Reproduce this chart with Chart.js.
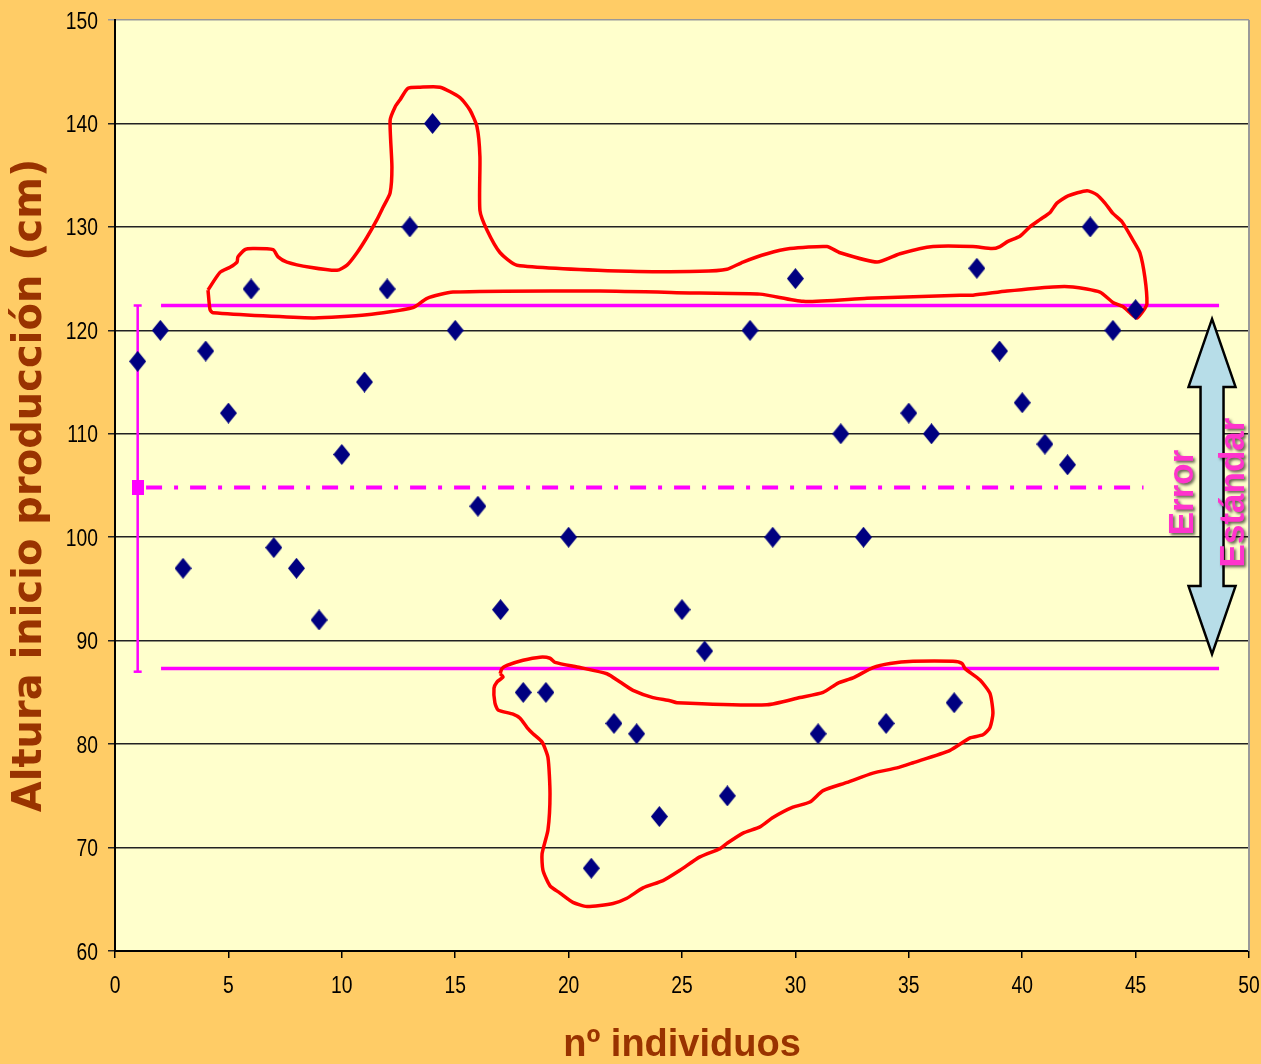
<!DOCTYPE html>
<html>
<head>
<meta charset="utf-8">
<script src="https://cdn.jsdelivr.net/npm/chart.js@4.4.1/dist/chart.umd.min.js"></script>
<style>
  html, body { margin: 0; padding: 0; background: #FFCC66; }
  #wrap { width: 1261px; height: 1064px; }
</style>
</head>
<body>
<div id="wrap"><canvas id="chart" width="1261" height="1064"></canvas></div>
<script>
// individuals and their height at start of production (cm)
const individuals = [1, 2, 3, 4, 5, 6, 7, 8, 9, 10, 11, 12, 13, 14, 15, 16, 17, 18, 19, 20,
    21, 22, 23, 24, 25, 26, 27, 28, 29, 30, 31, 32, 33, 34, 35, 36, 37, 38, 39, 40, 41, 42, 43, 44, 45];
const heights = [117, 120, 97, 118, 112, 124, 99, 97, 92, 108, 115, 124, 130, 140, 120, 103, 93, 85, 85, 100,
    68, 82, 81, 73, 93, 89, 75, 120, 100, 125, 81, 110, 100, 82, 112, 110, 84, 126, 118, 113, 109, 107, 130, 120, 122];

const xTicks = [0, 5, 10, 15, 20, 25, 30, 35, 40, 45, 50];
const yTicks = [60, 70, 80, 90, 100, 110, 120, 130, 140, 150];

// mean and +/- standard error lines
const meanHeight = 104.8;
const sdUpper = 122.4;
const sdLower = 87.3;
const errorBarX = 1;
const errorBar = [122.4, 87.0];
const sdLineX = [2.03, 48.68];
const meanLineX = [1.37, 45.35];

// arrow "Error Estándar"
const arrowX = 48.37;
const arrowTips = [121.1, 88.7];

// hand drawn groupings (x, y in chart units)
const upperGroup = [[4.10,123.9],[4.63,125.6],[5.07,126.1],[5.38,126.6],[5.42,127.1],[5.73,127.8],[6.08,127.9],[6.97,127.8],
    [7.19,127.1],[7.58,126.6],[8.60,126.1],[9.79,125.8],[10.23,126.3],[10.67,127.5],[11.11,129.0],[11.55,130.7],[11.82,131.9],
    [12.13,133.3],[12.21,135.8],[12.13,140.3],[12.35,141.6],[12.57,142.3],[12.92,143.4],[13.45,143.5],[14.33,143.5],
    [15.21,142.5],[15.65,141.3],[15.96,139.7],[16.09,136.8],[16.09,131.6],[16.40,129.7],[16.98,127.5],[17.72,126.3],
    [22.71,125.7],[25.79,125.7],[26.98,125.9],[27.69,126.6],[28.75,127.4],[29.76,127.9],[31.39,128.1],[31.97,127.5],
    [33.60,126.6],[34.61,127.4],[36.07,128.1],[37.83,128.1],[38.67,127.9],[39.02,128.1],[39.37,128.6],[39.90,129.1],
    [40.34,130.0],[40.78,130.7],[41.23,131.4],[41.53,132.3],[42.02,133.0],[42.86,133.5],[43.30,133.1],[43.65,132.3],
    [44.00,131.3],[44.40,130.5],[44.89,128.7],[45.19,127.5],[45.41,125.1],[45.50,122.6],[45.37,122.0],[45.06,121.2],
    [44.75,121.7],[44.44,122.3],[44.00,122.7],[43.43,123.7],[42.24,124.2],[41.36,124.2],[39.33,123.8],[37.83,123.4],
    [37.26,123.4],[33.16,123.1],[30.34,122.8],[28.44,123.5],[25.79,123.6],[21.38,123.8],[14.90,123.7],[13.76,123.1],
    [13.14,122.2],[11.11,121.5],[8.73,121.2],[4.32,121.7],[4.19,122.0],[4.10,123.9]];

const lowerGroup = [[16.98,86.8],[17.06,87.3],[17.28,87.6],[17.99,88.1],[18.74,88.4],[19.18,88.3],[19.40,87.9],[20.50,87.4],
    [21.69,86.8],[22.27,86.0],[22.84,85.2],[23.72,84.5],[24.47,84.2],[24.78,84.0],[28.75,83.8],[30.20,84.5],[31.22,85.0],
    [31.88,85.9],[32.54,86.4],[33.42,87.4],[34.17,87.8],[35.19,88.0],[36.95,88.0],[37.35,87.8],[37.48,87.3],[38.14,86.2],
    [38.58,84.9],[38.71,83.0],[38.58,81.6],[38.27,80.9],[37.70,80.6],[36.82,79.4],[35.19,78.2],[34.48,77.7],[33.42,77.2],
    [32.28,76.3],[31.22,75.5],[30.64,74.4],[29.89,73.9],[29.01,72.9],[28.44,72.0],[27.69,71.4],[26.98,70.4],[26.68,69.9],
    [25.79,69.1],[24.91,67.8],[24.16,66.8],[23.28,66.1],[22.57,65.1],[21.96,64.6],[20.81,64.3],[20.19,64.7],[19.62,65.6],
    [19.18,66.3],[18.87,67.8],[18.83,69.4],[19.09,71.7],[19.18,75.2],[19.09,78.7],[18.83,80.2],[18.43,81.0],[18.17,81.6],
    [17.86,82.5],[17.55,82.9],[16.89,83.3],[16.75,84.0],[16.71,85.4],[16.84,86.0],[17.11,86.5],[16.98,86.8]];

const MAGENTA = '#FF00FF';
const SANS = "'Liberation Sans', Arial, sans-serif";

// little canvases used as point styles (the original is a bit taller than wide)
function shapeCanvas(w, h, color, kind) {
    const c = document.createElement('canvas');
    c.width = w; c.height = h;
    const g = c.getContext('2d');
    g.fillStyle = color;
    if (kind === 'diamond') {
        g.beginPath();
        g.moveTo(w / 2, 0); g.lineTo(w, h / 2); g.lineTo(w / 2, h); g.lineTo(0, h / 2);
        g.closePath();
        g.fill();
    } else {
        g.fillRect(0, 0, w, h);
    }
    return c;
}
const diamond = shapeCanvas(17, 21, '#000080', 'diamond');
const meanBox = shapeCanvas(12, 15, MAGENTA, 'rect');

const toXY = arr => arr.map(p => ({ x: p[0], y: p[1] }));

const plotBackground = {
    id: 'plotBackground',
    beforeDraw(chart) {
        const { ctx, chartArea: a } = chart;
        ctx.save();
        ctx.fillStyle = '#FFCC66';
        ctx.fillRect(0, 0, chart.width, chart.height);
        ctx.fillStyle = '#FFFFCC';
        ctx.fillRect(a.left, a.top, a.right - a.left, a.bottom - a.top);
        ctx.restore();
    },
    beforeDatasetsDraw(chart) {
        const { ctx, chartArea: a } = chart;
        ctx.save();
        ctx.strokeStyle = '#999999';
        ctx.lineWidth = 2;
        ctx.beginPath();
        ctx.moveTo(a.right, a.top);
        ctx.lineTo(a.right, a.bottom);
        ctx.stroke();
        ctx.restore();
    }
};

// tick labels in a narrow face: the scale's own ticks, squeezed horizontally
const narrowTicks = {
    id: 'narrowTicks',
    afterDraw(chart) {
        const { ctx, scales: { x, y } } = chart;
        ctx.save();
        ctx.font = '23.5px ' + SANS;
        ctx.fillStyle = '#000';
        ctx.textBaseline = 'alphabetic';
        const squeeze = 0.82;
        x.ticks.forEach((t, i) => {
            ctx.save();
            ctx.translate(x.getPixelForTick(i), x.bottom - x.height + 42);
            ctx.scale(squeeze, 1);
            ctx.textAlign = 'center';
            ctx.fillText(String(t.value), 0, 0);
            ctx.restore();
        });
        y.ticks.forEach((t, i) => {
            ctx.save();
            ctx.translate(y.right - 17, y.getPixelForTick(i) + 8.5);
            ctx.scale(squeeze, 1);
            ctx.textAlign = 'right';
            ctx.fillText(String(t.value), 0, 0);
            ctx.restore();
        });
        ctx.restore();
    }
};

const errorArrow = {
    id: 'errorArrow',
    afterDatasetsDraw(chart) {
        const { ctx, scales: { x, y } } = chart;
        const cx = x.getPixelForValue(arrowX);
        const top = y.getPixelForValue(arrowTips[0]);
        const bot = y.getPixelForValue(arrowTips[1]);
        const head = 68, hw = 23.5, sw = 11.5;
        ctx.save();
        ctx.beginPath();
        ctx.moveTo(cx, top);
        ctx.lineTo(cx + hw, top + head);
        ctx.lineTo(cx + sw, top + head);
        ctx.lineTo(cx + sw, bot - head);
        ctx.lineTo(cx + hw, bot - head);
        ctx.lineTo(cx, bot);
        ctx.lineTo(cx - hw, bot - head);
        ctx.lineTo(cx - sw, bot - head);
        ctx.lineTo(cx - sw, top + head);
        ctx.lineTo(cx - hw, top + head);
        ctx.closePath();
        ctx.fillStyle = '#B7DDE8';
        ctx.fill();
        ctx.lineWidth = 2.5;
        ctx.lineJoin = 'miter';
        ctx.strokeStyle = '#000000';
        ctx.stroke();

        const mid = (top + bot) / 2 + 6;
        ctx.font = 'bold 35px ' + SANS;
        ctx.textAlign = 'center';
        ctx.textBaseline = 'middle';
        ctx.fillStyle = '#FF33CC';
        ctx.shadowColor = 'rgba(0,0,0,0.6)';
        ctx.shadowBlur = 3;
        ctx.shadowOffsetX = 2;
        ctx.shadowOffsetY = 2;
        [['Error', cx - 29], ['Estándar', cx + 22]].forEach(([txt, tx]) => {
            ctx.save();
            ctx.translate(tx, mid);
            ctx.rotate(-Math.PI / 2);
            ctx.fillText(txt, 0, 0);
            ctx.restore();
        });
        ctx.restore();
    }
};

new Chart(document.getElementById('chart'), {
    type: 'scatter',
    data: {
        datasets: [
            {
                label: 'Altura',
                data: individuals.map((n, i) => ({ x: n, y: heights[i] })),
                pointStyle: diamond,
                order: 1
            },
            {
                label: 'upper group',
                data: toXY(upperGroup),
                showLine: true,
                borderColor: '#FF0000',
                borderWidth: 3.5,
                tension: 0.2,
                pointRadius: 0,
                order: 2
            },
            {
                label: 'lower group',
                data: toXY(lowerGroup),
                showLine: true,
                borderColor: '#FF0000',
                borderWidth: 3.5,
                tension: 0.2,
                pointRadius: 0,
                order: 2
            },
            {
                label: 'sd upper',
                data: sdLineX.map(v => ({ x: v, y: sdUpper })),
                showLine: true,
                borderColor: MAGENTA,
                borderWidth: 3.5,
                pointRadius: 0,
                order: 3
            },
            {
                label: 'sd lower',
                data: sdLineX.map(v => ({ x: v, y: sdLower })),
                showLine: true,
                borderColor: MAGENTA,
                borderWidth: 3.5,
                pointRadius: 0,
                order: 3
            },
            {
                label: 'mean',
                data: meanLineX.map(v => ({ x: v, y: meanHeight })),
                showLine: true,
                borderColor: MAGENTA,
                borderWidth: 4,
                borderDash: [16, 12, 4, 12],
                pointRadius: 0,
                order: 3
            },
            {
                label: 'error bar',
                data: errorBar.map(v => ({ x: errorBarX, y: v })),
                showLine: true,
                borderColor: MAGENTA,
                borderWidth: 2.5,
                pointStyle: 'line',
                pointRadius: 4,
                pointBorderWidth: 2.5,
                pointBorderColor: MAGENTA,
                order: 3
            },
            {
                label: 'mean point',
                data: [{ x: errorBarX, y: meanHeight }],
                pointStyle: meanBox,
                order: 3
            }
        ]
    },
    options: {
        responsive: false,
        animation: false,
        layout: { padding: { top: 20, right: 12, left: 0, bottom: 0 } },
        plugins: {
            legend: { display: false },
            tooltip: { enabled: false }
        },
        scales: {
            x: {
                type: 'linear',
                min: xTicks[0],
                max: xTicks[xTicks.length - 1],
                afterBuildTicks: s => { s.ticks = xTicks.map(v => ({ value: v })); },
                afterFit: s => { s.height = 113; s.paddingLeft = 0; s.paddingRight = 0; },
                ticks: { display: false },
                grid: { drawOnChartArea: false, color: '#000', tickLength: 7, lineWidth: 1.5 },
                border: { color: '#000', width: 2 },
                title: {
                    display: true,
                    text: 'nº individuos',
                    color: '#993300',
                    font: { family: SANS, weight: 'bold', size: 38 },
                    padding: { top: 0, bottom: -4 }
                }
            },
            y: {
                type: 'linear',
                min: yTicks[0],
                max: yTicks[yTicks.length - 1],
                afterBuildTicks: s => { s.ticks = yTicks.map(v => ({ value: v })); },
                afterFit: s => { s.width = 115; s.paddingTop = 0; s.paddingBottom = 0; },
                ticks: { display: false },
                grid: {
                    color: c => (c.tick && c.tick.value === 150 ? '#999999' : '#222222'),
                    lineWidth: 1.5,
                    tickLength: 7
                },
                border: { color: '#000', width: 2 },
                title: {
                    display: true,
                    text: 'Altura inicio producción (cm)',
                    color: '#993300',
                    font: { family: "'DejaVu Sans', sans-serif", weight: 'bold', size: 40 },
                    padding: { top: 7, bottom: 0 }
                }
            }
        }
    },
    plugins: [plotBackground, narrowTicks, errorArrow]
});
</script>
</body>
</html>
